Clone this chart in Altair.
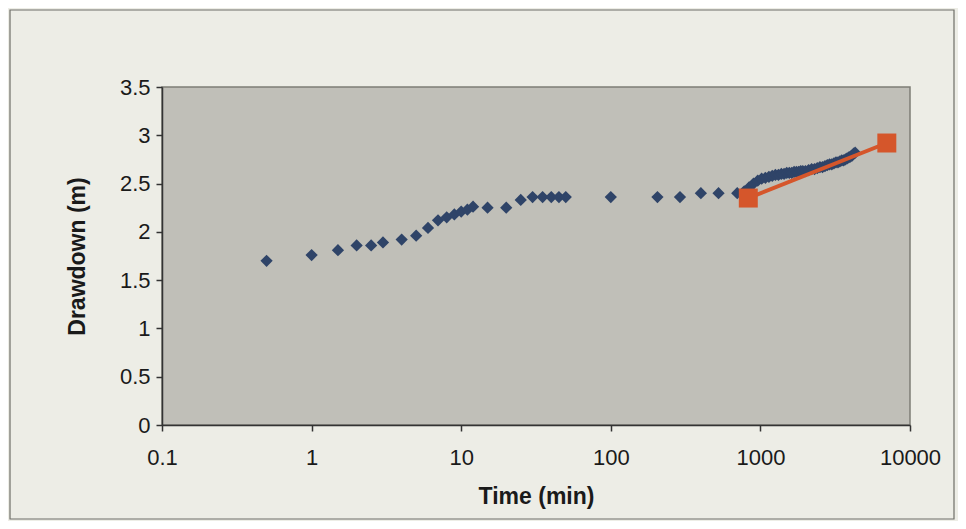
import altair as alt
import pandas as pd

# Observed drawdown (blue diamonds)
time_obs = [0.5, 1, 1.5, 2, 2.5, 3, 4, 5, 6, 7, 8, 9, 10, 11, 12, 15,
            20, 25, 30, 35, 40, 45, 50, 100, 205, 290, 400, 525, 700,
            780, 840, 900, 960, 1020, 1080, 1140, 1200, 1260, 1320, 1380,
            1440, 1500, 1560, 1620, 1680, 1740, 1800, 1860, 1920, 2000,
            2100, 2200, 2300, 2400, 2500, 2600, 2700, 2800, 2900, 3000,
            3100, 3200, 3300, 3400, 3500, 3600, 3700, 3800, 3900, 4000,
            4100, 4200, 4300]
drawdown_obs = [1.70, 1.76, 1.81, 1.86, 1.86, 1.89, 1.92, 1.96, 2.04, 2.12,
                2.15, 2.18, 2.21, 2.23, 2.26, 2.25,
                2.25, 2.33, 2.36, 2.36, 2.36, 2.36, 2.36, 2.36, 2.36, 2.36,
                2.40, 2.40, 2.40,
                2.42, 2.46, 2.50, 2.53, 2.55, 2.56, 2.57, 2.58, 2.59, 2.59,
                2.60, 2.60, 2.61, 2.61, 2.61, 2.62, 2.62, 2.62, 2.63, 2.63,
                2.63, 2.64, 2.65, 2.65, 2.66, 2.67, 2.67, 2.68, 2.69, 2.70,
                2.70, 2.71, 2.72, 2.72, 2.73, 2.74, 2.74, 2.75, 2.76, 2.77,
                2.78, 2.79, 2.81, 2.82]

# Fitted line (orange squares)
time_fit = [830, 7000]
drawdown_fit = [2.35, 2.92]

x_ticks = [0.1, 1, 10, 100, 1000, 10000]
y_ticks = [0, 0.5, 1, 1.5, 2, 2.5, 3, 3.5]

obs = pd.DataFrame({"t": time_obs, "s": drawdown_obs})
fit = pd.DataFrame({"t": time_fit, "s": drawdown_fit})

FONT = "Liberation Sans"

xenc = alt.X("t:Q",
             scale=alt.Scale(type="log", domain=[0.1, 10000], nice=False),
             axis=alt.Axis(values=x_ticks, format="~g", title="Time (min)",
                           grid=False, tickSize=6, labelPadding=16,
                           titlePadding=17, labelFlush=False))
yenc = alt.Y("s:Q",
             scale=alt.Scale(domain=[0, 3.5], nice=False),
             axis=alt.Axis(values=y_ticks, format="~g", title="Drawdown (m)",
                           grid=False, tickSize=6, labelPadding=6,
                           titlePadding=30))

# decorative outer frame of the chart (not data)
frame = alt.Chart(pd.DataFrame({"f": [0]})).mark_rect(
    fill=None, stroke="#6E6E68", strokeWidth=1.2, clip=False
).encode(x=alt.value(-152), x2=alt.value(792),
         y=alt.value(-77), y2=alt.value(432))

points = alt.Chart(obs).mark_point(
    shape="diamond", filled=True, size=150, color="#2F4468", opacity=1
).encode(x=xenc, y=yenc)

line = alt.Chart(fit).mark_line(
    color="#D5562B", strokeWidth=4
).encode(x=xenc, y=yenc)

squares = alt.Chart(fit).mark_point(
    shape="square", filled=True, size=360, color="#D5562B", opacity=1
).encode(x=xenc, y=yenc)

chart = alt.layer(frame, points, line, squares).properties(
    width=748, height=338,
    background="#EDEDE6",
    padding={"left": 154, "top": 79, "right": 48, "bottom": 96},
    autosize=alt.AutoSizeParams(type="none"),
).configure_view(
    fill="#C0BFB8", stroke="#7D7D76", strokeWidth=1.5
).configure_axis(
    labelFont=FONT, titleFont=FONT, labelFontSize=22, titleFontSize=23,
    labelColor="#1A1A1A", titleColor="#1A1A1A", titleFontWeight="bold",
    domainColor="#333333", tickColor="#333333", domainWidth=1.5, tickWidth=1.5
)

chart.save("out.html", embed_options={"renderer": "svg", "actions": False})
